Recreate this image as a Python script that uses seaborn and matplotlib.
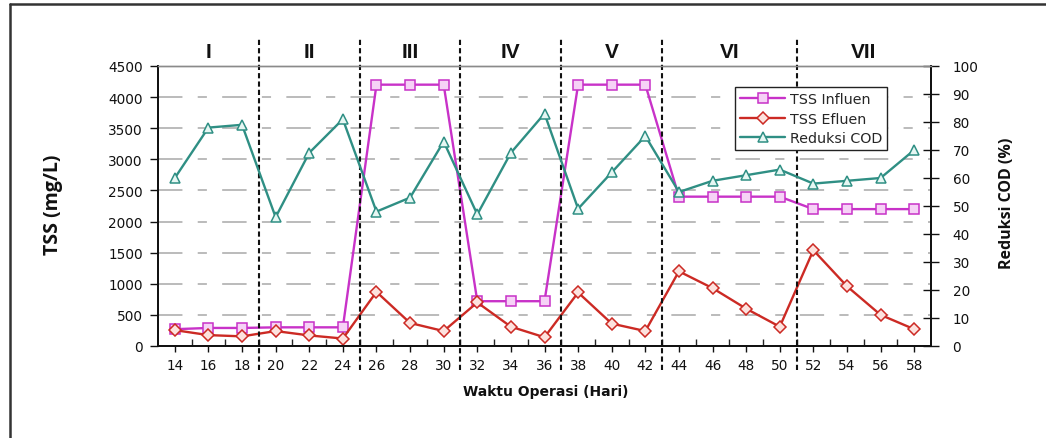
import numpy as np
import pandas as pd
import seaborn as sns
import matplotlib
matplotlib.use("Agg")
import matplotlib.pyplot as plt
from matplotlib.lines import Line2D
from matplotlib.ticker import MultipleLocator, FixedLocator

# ---- data ----
days = [14, 16, 18, 20, 22, 24, 26, 28, 30, 32, 34, 36, 38, 40, 42, 44, 46, 48, 50, 52, 54, 56, 58]
tss_influen = [270, 290, 290, 300, 300, 300, 4200, 4200, 4200, 720, 720, 720,
               4200, 4200, 4200, 2400, 2400, 2400, 2400, 2200, 2200, 2200, 2200]
tss_efluen = [255, 175, 155, 240, 170, 120, 870, 370, 240, 700, 310, 140,
              860, 360, 240, 1200, 930, 600, 310, 1540, 960, 500, 270]
reduksi_cod = [60, 78, 79, 46, 69, 81, 48, 53, 73, 47, 69, 83,
               49, 62, 75, 55, 59, 61, 63, 58, 59, 60, 70]
phase_labels = ["I", "II", "III", "IV", "V", "VI", "VII"]
phase_bounds = [13, 19, 25, 31, 37, 43, 51, 59]
series_names = ["TSS Influen", "TSS Efluen", "Reduksi COD"]

df = pd.DataFrame({"day": days, "inf": tss_influen, "ef": tss_efluen, "cod": reduksi_cod})

sns.set_theme(style="white")
plt.rcParams["font.family"] = ["DejaVu Sans"]

fig = plt.figure(figsize=(10.46, 4.39), dpi=100)
ax = fig.add_axes([158 / 1046, 1 - 347 / 439, (931 - 158) / 1046, 280 / 439])
ax2 = ax.twinx()

c_inf, c_ef, c_cod = "#c832c8", "#cc2a24", "#2f8f84"

sns.lineplot(data=df, x="day", y="inf", ax=ax, color=c_inf, lw=1.7, marker="s", ms=6.5,
             markerfacecolor="#f6d2f6", markeredgecolor=c_inf, markeredgewidth=1.1,
             label=series_names[0], legend=False)
sns.lineplot(data=df, x="day", y="ef", ax=ax, color=c_ef, lw=1.7, marker="D", ms=6,
             markerfacecolor="#fde2de", markeredgecolor=c_ef, markeredgewidth=1.1,
             label=series_names[1], legend=False)
sns.lineplot(data=df, x="day", y="cod", ax=ax2, color=c_cod, lw=1.7, marker="^", ms=7.5,
             markerfacecolor="#e6f7f3", markeredgecolor=c_cod, markeredgewidth=1.1,
             label=series_names[2], legend=False)

ax.set_xlim(phase_bounds[0], phase_bounds[-1])
ax.set_ylim(0, 4500)
ax2.set_ylim(0, 100)
ax.set_xlabel("")
ax.set_ylabel("")
ax2.set_ylabel("")

ax.set_xticks(days)
ax.set_xticklabels([str(d) for d in days])
ax.xaxis.set_minor_locator(FixedLocator(list(range(15, 59, 2))))
ax.yaxis.set_major_locator(MultipleLocator(500))
ax2.yaxis.set_major_locator(MultipleLocator(10))

ax.tick_params(axis="x", which="major", direction="out", length=4, width=1, pad=5,
               labelsize=9.8, colors="#111111", bottom=True)
ax.tick_params(axis="x", which="minor", direction="in", length=5, width=1, bottom=True)
ax.tick_params(axis="y", which="major", direction="out", length=6, width=1, pad=5,
               labelsize=9.8, colors="#111111", left=True)
ax2.tick_params(axis="y", which="major", direction="inout", length=11, width=1, pad=10,
                labelsize=9.8, colors="#111111", right=True)

# gridlines
ax.yaxis.grid(True, color="#a8a8a8", linestyle=(0, (16, 10, 6, 10)), linewidth=1.1)
ax.xaxis.grid(False)
ax2.grid(False)
ax.set_axisbelow(True)

for a in (ax, ax2):
    for s in ("left", "bottom", "right"):
        a.spines[s].set_color("#111111")
        a.spines[s].set_linewidth(1.3)
    a.spines["top"].set_color("#8a8a8a")
    a.spines["top"].set_linewidth(1.0)

# phase separators and labels
trans = matplotlib.transforms.blended_transform_factory(ax.transData, ax.transAxes)
for b in phase_bounds[1:-1]:
    ax2.axvline(b, ymin=-0.085, ymax=1.095, color="#111111", lw=1.5,
                linestyle=(0, (2.5, 1.5)), clip_on=False, zorder=1)
for lab, lo, hi in zip(phase_labels, phase_bounds[:-1], phase_bounds[1:]):
    ax.text((lo + hi) / 2, 1.05, lab, transform=trans, ha="center", va="center",
            fontsize=15, fontweight="bold", family=["Liberation Sans", "DejaVu Sans"],
            color="#111111")

# legend
h1, l1 = ax.get_legend_handles_labels()
h2, l2 = ax2.get_legend_handles_labels()
leg = ax2.legend(h1 + h2, l1 + l2, loc="upper left", bbox_to_anchor=(0.746, 0.925),
                 borderaxespad=0, frameon=True, fancybox=False, shadow=False,
                 handlelength=3.2, handletextpad=0.3, borderpad=0.35, labelspacing=0.4,
                 fontsize=10.3)
leg.get_frame().set_edgecolor("#222222")
leg.get_frame().set_linewidth(1.0)
leg.get_frame().set_facecolor("white")
leg.get_frame().set_alpha(1)

# axis titles
fig.text(53 / 1046, 1 - 205 / 439, "TSS (mg/L)", rotation=90, ha="center", va="center",
         fontsize=14, fontweight="bold", family=["Open Sans", "DejaVu Sans"], color="#111111")
fig.text(1007 / 1046, 1 - 203 / 439, "Reduksi COD (%)", rotation=90, ha="center", va="center",
         fontsize=11.5, fontweight="bold", family=["Open Sans", "DejaVu Sans"], color="#111111")
fig.text(546 / 1046, 1 - 392 / 439, "Waktu Operasi (Hari)", ha="center", va="center",
         fontsize=10, fontweight="bold", color="#111111")

# outer frame (left and top edges)
fig.add_artist(Line2D([9.5 / 1046, 9.5 / 1046], [0, 1 - 4.5 / 439], transform=fig.transFigure,
                      color="#333333", lw=1.8))
fig.add_artist(Line2D([9.5 / 1046, 1], [1 - 4.5 / 439, 1 - 4.5 / 439], transform=fig.transFigure,
                      color="#333333", lw=1.8))

fig.savefig("out.png", dpi=100)
